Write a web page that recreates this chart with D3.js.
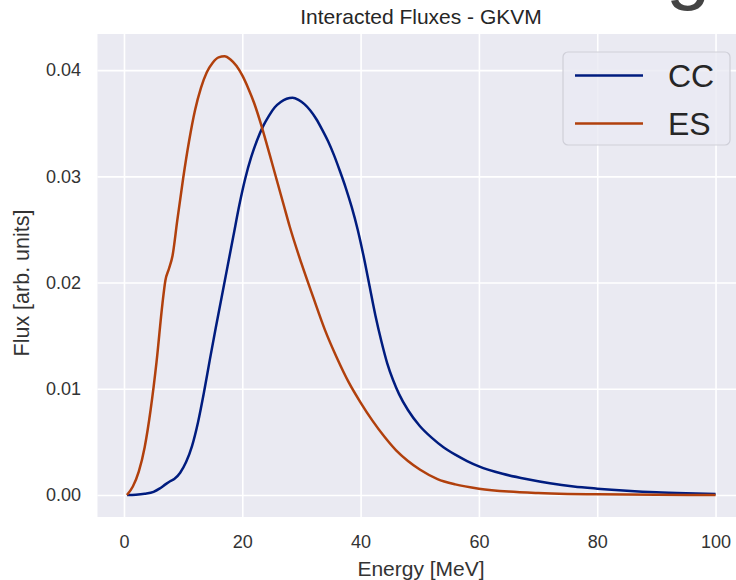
<!DOCTYPE html>
<html>
<head>
<meta charset="utf-8">
<script src="https://cdn.jsdelivr.net/npm/d3@7"></script>
<style>
    body { margin: 0; background: #fff; }
    svg { display: block; font-family: "Liberation Sans", Arial, sans-serif; }
</style>
</head>
<body>
<div id="flux-vis"></div>
<script>

// Values
let seriesNames = ["CC", "ES"];
let seriesColors = ["#001c7f", "#b1400d"];

let energyCC = [0.5, 2, 3.5, 5, 6, 7, 7.8, 8.5, 9.5, 10.5, 11.5, 12.5, 13.5, 14.5, 15.5, 16.5, 17.5, 18.5,
    19.5, 20.5, 21.5, 22.5, 23.5, 24.5, 25.5, 26.5, 27.5, 28.5, 29.5, 30.5, 31.5, 32.5, 33.5, 34.5,
    35.5, 36.5, 37.5, 38.5, 39.5, 40.5, 41.5, 42.5, 43.5, 44.5, 45.5, 46.5, 48, 50, 52, 54, 56, 58,
    60, 64, 68, 72, 76, 80, 85, 90, 95, 100];
let fluxCC = [0, 0.00003, 0.00012, 0.0003, 0.0006, 0.0010, 0.0013, 0.0015, 0.0021, 0.0031, 0.0046, 0.0068, 0.0096, 0.0127, 0.0157, 0.0186, 0.0215, 0.0244,
    0.0273, 0.0298, 0.0318, 0.0334, 0.0347, 0.0357, 0.0365, 0.0370, 0.0373, 0.0374, 0.0372, 0.0368, 0.0362, 0.0354, 0.0344, 0.0333,
    0.0320, 0.0305, 0.0289, 0.0271, 0.0250, 0.0225, 0.0197, 0.0169, 0.0145, 0.0124, 0.0108, 0.0095, 0.0080, 0.0065, 0.0054, 0.0045, 0.0038, 0.0032,
    0.0027, 0.0020, 0.0015, 0.0011, 0.0008, 0.0006, 0.0004, 0.00025, 0.00016, 0.0001];

let energyES = [0.5, 1.5, 2.5, 3.5, 4.5, 5.5, 6.5, 7.0, 7.6, 8.2, 9, 10, 11, 12, 13, 14, 15, 16, 17, 18,
    19, 20, 21, 22, 23, 24, 25, 26, 27, 28, 30, 32, 34, 36, 38, 40, 42, 44, 46, 48, 50, 53, 56,
    60, 65, 70, 75, 80, 90, 100];
let fluxES = [0, 0.0008, 0.0022, 0.0045, 0.0080, 0.0125, 0.0180, 0.0202, 0.0213, 0.0225, 0.0258, 0.0298, 0.0333, 0.0362, 0.0383, 0.0398, 0.0407, 0.0412, 0.0413, 0.0410,
    0.0404, 0.0395, 0.0383, 0.0369, 0.0352, 0.0333, 0.0313, 0.0293, 0.0273, 0.0253, 0.0218, 0.0186, 0.0155, 0.0129, 0.0106, 0.0087, 0.0070, 0.0055, 0.0042, 0.0032, 0.0024, 0.0015, 0.0010,
    0.0006, 0.00032, 0.00018, 0.0001, 0.00006, 0.00002, 0.00001];

let xTicks = [0, 20, 40, 60, 80, 100];
let yTicks = [0, 0.01, 0.02, 0.03, 0.04];


class FluxVis {

    constructor(_parentElement) {
        this.parentElement = _parentElement;
        this.data = [
            {name: seriesNames[0], color: seriesColors[0], values: energyCC.map((e, i) => ({e: e, f: fluxCC[i]}))},
            {name: seriesNames[1], color: seriesColors[1], values: energyES.map((e, i) => ({e: e, f: fluxES[i]}))}
        ];
        this.initVis();
    }

    initVis() {
        let vis = this;

        // plot box runs a bit past the right edge, as in the cropped picture
        let margin = {top: 34, left: 97.5};
        vis.width = 647.5;
        vis.height = 483;

        vis.svg = d3.select("#" + vis.parentElement).append("svg")
            .attr("width", 736)
            .attr("height", 580);

        vis.svg.append("rect")
            .attr("width", 736)
            .attr("height", 580)
            .attr("fill", "#fff");

        // stray caption fragment cut by the top edge
        vis.svg.append("text")
            .attr("x", 666)
            .attr("y", -6)
            .attr("font-size", 80)
            .attr("fill", "#444")
            .text("ge");

        vis.g = vis.svg.append("g")
            .attr("transform", "translate(" + margin.left + "," + margin.top + ")");

        vis.g.append("rect")
            .attr("width", vis.width)
            .attr("height", vis.height)
            .attr("fill", "#eaeaf2");

        vis.x = d3.scaleLinear()
            .domain([-4.475, 104.975])
            .range([0, vis.width]);

        vis.y = d3.scaleLinear()
            .domain([-0.00207, 0.0434])
            .range([vis.height, 0]);

        vis.xAxis = d3.axisBottom(vis.x)
            .tickValues(xTicks)
            .tickSize(-vis.height)
            .tickPadding(18)
            .tickFormat(d3.format("d"));

        vis.yAxis = d3.axisLeft(vis.y)
            .tickValues(yTicks)
            .tickSize(-vis.width)
            .tickPadding(16.5)
            .tickFormat(d3.format(".2f"));

        vis.g.append("g")
            .attr("class", "x-axis")
            .attr("transform", "translate(0," + vis.height + ")")
            .call(vis.xAxis);

        vis.g.append("g")
            .attr("class", "y-axis")
            .call(vis.yAxis);

        vis.g.selectAll(".domain").remove();
        vis.g.selectAll(".tick line")
            .attr("stroke", "#fff")
            .attr("stroke-width", 1.6);
        vis.g.selectAll(".tick text")
            .attr("font-family", "Liberation Sans, Arial, sans-serif")
            .attr("font-size", 18)
            .attr("fill", "#333");

        vis.line = d3.line()
            .curve(d3.curveMonotoneX)
            .x(d => vis.x(d.e))
            .y(d => vis.y(d.f));

        vis.g.selectAll(".flux-line")
            .data(vis.data)
            .enter()
            .append("path")
            .attr("class", "flux-line")
            .attr("fill", "none")
            .attr("stroke", d => d.color)
            .attr("stroke-width", 2.5)
            .attr("stroke-linejoin", "round")
            .attr("d", d => vis.line(d.values));

        // title and axis labels
        vis.svg.append("text")
            .attr("x", 421)
            .attr("y", 24)
            .attr("text-anchor", "middle")
            .attr("font-size", 21)
            .attr("fill", "#262626")
            .text("Interacted Fluxes - GKVM");

        vis.svg.append("text")
            .attr("x", 421)
            .attr("y", 576)
            .attr("text-anchor", "middle")
            .attr("font-size", 21)
            .attr("fill", "#333")
            .text("Energy [MeV]");

        vis.svg.append("text")
            .attr("transform", "translate(29," + 283 + ") rotate(-90)")
            .attr("text-anchor", "middle")
            .attr("font-size", 21.5)
            .attr("fill", "#333")
            .text("Flux [arb. units]");

        // legend
        let legend = vis.svg.append("g")
            .attr("transform", "translate(563,52)");

        legend.append("rect")
            .attr("width", 167)
            .attr("height", 93)
            .attr("rx", 5)
            .attr("fill", "#eaeaf2")
            .attr("fill-opacity", 0.8)
            .attr("stroke", "#cfcfd8")
            .attr("stroke-width", 1.2);

        let items = legend.selectAll(".legend-item")
            .data(vis.data)
            .enter()
            .append("g")
            .attr("class", "legend-item")
            .attr("transform", (d, i) => "translate(0," + (23.5 + i * 48) + ")");

        items.append("line")
            .attr("x1", 12)
            .attr("x2", 80)
            .attr("stroke", d => d.color)
            .attr("stroke-width", 2.5);

        items.append("text")
            .attr("x", 105)
            .attr("y", 11.5)
            .attr("font-size", 32)
            .attr("fill", "#262626")
            .text(d => d.name);
    }
}

let fluxVis = new FluxVis("flux-vis");

</script>
</body>
</html>
